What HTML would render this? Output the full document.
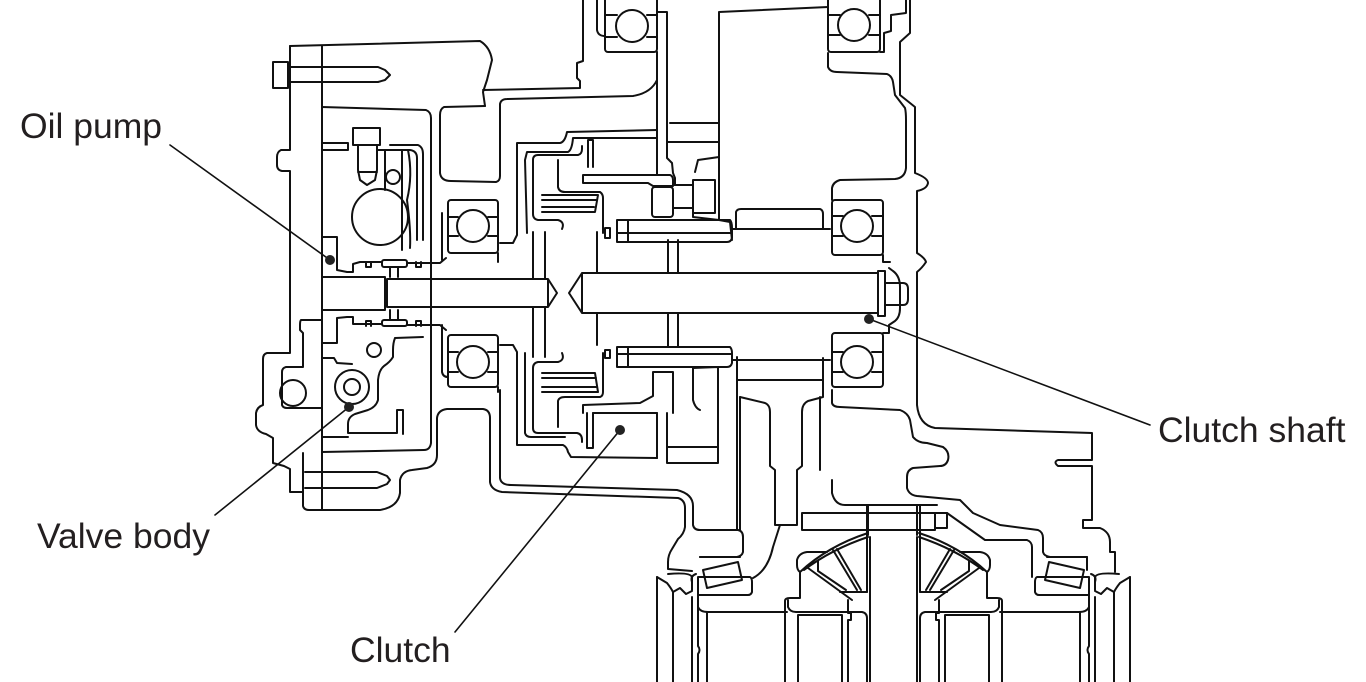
<!DOCTYPE html>
<html><head><meta charset="utf-8"><style>
html,body{margin:0;padding:0;background:#fff;}
svg{display:block;}
</style></head><body>
<svg width="1366" height="682" viewBox="0 0 1366 682" xmlns="http://www.w3.org/2000/svg">
<defs>
<g id="lowgear">
  <path d="M700,557 H740"/>
  <path d="M698,577 H750 Q752,578 752,582 V592 Q751,595 748,595 H698 Z"/>
  <path d="M703,570 L738,562 L742,580 L707,588 Z"/>
  <path d="M698,595 V607 Q700,612 708,612 H787"/>
  <path d="M657,577 V682 M673,592 V682 M692,597 V682 M698,607 V646 Q701,650 698,654 V682 M707,612 V682"/>
  <path d="M657,577 L667,583 Q671,588 673,592 L680,588 L686,594 L692,591"/>
  <path d="M668,574 Q690,572 692,577 V590"/>
  <path d="M696,574 Q690,576 692,582"/>
  <path d="M870,537 V682 M867,505 V592"/>
  <path d="M785,682 V601 Q785,598 790,598 H800 V572 Q797,570 797,565 V560 Q799,553 807,552 H827"/>
  <path d="M800,572 Q828,546 868,533 M804,570 Q832,549 868,537"/>
  <path d="M808,568 L852,600 M833,550 L857,590 M837,549 L861,590 M818,561 V571 L846,590"/>
  <path d="M840,592 H867"/>
  <path d="M788,600 V607 Q790,612 796,612 H862 Q867,613 867,618 V682"/>
  <path d="M798,682 V615 H842 V682"/>
  <path d="M848,600 V613 H851 V620 H848 V682"/>
</g>
</defs>
<g fill="none" stroke="#111" stroke-width="2" stroke-linejoin="round" stroke-linecap="round">
<!-- left housing -->
<path d="M290,46 L480,41 Q490,47 492,60 L487,80 L483,92 L485,106"/>
<path d="M290,46 V150 H281 Q277,152 277,157 V165 Q277,170 282,171 H290 V353 H267 Q263,354 263,359 V405 Q257,407 256,413 V425 Q257,432 266,434 L273,438 V463 L284,466 L290,469 V492 H303"/>
<path d="M322,46 V510"/>
<path d="M303,453 V506 Q304,510 309,510 H380 Q398,507 400,493 V480 Q402,471 412,470 L427,468 Q437,465 437,455 V418 Q438,410 447,409 H483 Q490,410 490,418 V482 Q491,490 502,492 L678,498 Q685,500 685,508 V527 Q684,534 678,539 L672,549 Q668,555 668,562 V569 L692,571"/>
<path d="M500,390 V478 Q501,485 511,485 L677,490 Q693,494 693,506 V525 Q694,530 700,530 H738 Q743,531 743,537 V552 Q742,556 737,557 H700"/>
<path d="M288,67 H378 L385,70 L390,75 L385,80 L378,82 H288"/>
<path d="M273,62 H288 V88 H273 Z"/>
<path d="M305,472 H377 L387,476 L390,480 L387,484 L377,488 H305"/>
<path d="M322,107 L426,110 Q431,112 431,118 V443 Q430,450 424,450 L322,452"/>
<path d="M485,106 L444,107 Q440,109 440,115 V173 Q441,181 451,181 L496,182 Q500,181 500,176 V104 Q501,99 507,99 L633,96 Q651,93 657,80 V52"/>
<path d="M442,213 V260 M442,325 V372 Q443,377 448,377"/>
<path d="M498,253 V262 M498,387 V392"/>
<!-- bearings -->
<rect x="448" y="200" width="50" height="53" rx="3"/><circle cx="473" cy="226" r="16"/><path d="M448,217 H458 M488,217 H498 M448,236 H458 M488,236 H498"/>
<rect x="448" y="335" width="50" height="52" rx="3"/><circle cx="473" cy="362" r="16"/><path d="M448,352 H458 M488,352 H498 M448,372 H458 M488,372 H498"/>
<rect x="605" y="-4" width="52" height="56" rx="3"/><circle cx="632" cy="26" r="16"/><path d="M605,15 H617 M647,15 H657 M605,37 H617 M647,37 H657"/>
<rect x="828" y="-4" width="52" height="56" rx="3"/><circle cx="854" cy="25" r="16"/><path d="M828,15 H840 M869,15 H880 M828,35 H840 M869,35 H880"/>
<rect x="832" y="200" width="51" height="55" rx="3"/><circle cx="857" cy="226" r="16"/><path d="M832,216 H843 M872,216 H883 M832,236 H843 M872,236 H883"/>
<rect x="832" y="333" width="51" height="54" rx="3"/><circle cx="857" cy="362" r="16"/><path d="M832,352 H843 M872,352 H883 M832,372 H843 M872,372 H883"/>
<!-- top middle -->
<path d="M583,0 V61 L577,63 V78 L580,81 V88 L483,90"/>
<path d="M597,0 V30 Q598,36 605,36"/>
<path d="M657,52 V175 M657,12 H667 V158 L672,163 L673,173 L675,178 V185"/>
<path d="M670,123 H718 M667,142 H718"/>
<path d="M719,12 L828,7 M719,12 V220"/>
<!-- right housing -->
<path d="M880,52 H884 V33 L891,31 V15 L906,13 V0"/>
<path d="M910,0 V33 L900,42 V95 L915,107 V173 Q928,178 928,183 Q927,189 917,191 V253 Q925,258 926,262 Q922,268 917,272 V405 Q919,425 935,428 L1092,433 V460 H1058 Q1053,462 1058,466 H1092 V520 H1083 V528 H1100 Q1110,532 1110,542 V552 H1115 V572"/>
<path d="M828,53 V67 Q830,72 837,72 L887,74 Q892,76 893,82 L895,95 L905,108 Q906,112 906,120 V168 Q905,178 895,179 L840,180 Q833,182 832,188 V200"/>
<path d="M883,333 H889 V325 L895,321 Q900,317 900,308 V287 Q900,276 893,271 L889,268"/>
<path d="M883,255 V262 L890,262"/>
<path d="M832,390 V403 Q833,407 840,407 L900,410 Q908,413 910,420 L913,437 Q918,443 927,443 L943,447 Q950,452 948,460 Q946,466 940,466 L913,468 Q907,470 907,477 V488 Q909,495 917,496 L960,500 L973,513 L1000,525 L1038,530 Q1043,532 1043,538 V552 Q1044,556 1050,557 H1087 V570"/>
<path d="M947,513 L985,540 H1027 Q1032,542 1032,547 V577"/>
<!-- shafts -->
<path d="M322,277 H385 V310 H322"/>
<path d="M387,279 H548 L557,293 L548,307 H387 Z M548,279 V307"/>
<path d="M878,273 H582 L569,293 L582,313 H878 M582,273 V313"/>
<path d="M878,271 H885 V316 H878 Z"/>
<path d="M885,283 H903 Q908,283 908,289 V299 Q908,305 903,305 H885"/>
<path d="M533,232 V279 M545,232 V279 M533,307 V357 M545,307 V357"/>
<path d="M597,232 V273 M597,313 V345"/>
<path d="M668,240 V273 M678,240 V273 M668,313 V347 M678,313 V347"/>
<!-- oil pump -->
<path d="M322,143 H348 V150 M322,150 H348"/>
<path d="M353,128 H380 V145 H353 Z"/>
<path d="M358,145 V170 L360,180 L367,185 L375,180 L377,170 V145 M358,172 H377"/>
<path d="M377,150 H410 Q417,151 417,158 V240 M390,145 H418 Q423,147 423,154 V240"/>
<path d="M385,150 V190 M402,150 V250 M408,150 Q413,175 407,200 Q411,230 410,248"/>
<circle cx="393" cy="177" r="7"/>
<circle cx="380" cy="217" r="28"/>
<path d="M322,237 H337 V270 L347,272 H353 V264 L360,262 H382 M407,263 H440 L446,258"/>
<rect x="382" y="260" width="25" height="7" rx="2"/>
<path d="M366,262 V267 H371 V262 M416,262 V267 H421 V262 M390,267 V277 M398,267 V277"/>
<path d="M322,343 H337 V318 L347,317 H353 V324 H382 M407,325 H440 L446,330"/>
<rect x="382" y="320" width="25" height="6" rx="2"/>
<path d="M366,326 V321 H371 V326 M416,326 V321 H421 V326 M390,310 V320 M398,310 V320"/>
<!-- valve body -->
<path d="M322,320 H301 Q300,321 300,325 V330 L303,333 V367 H286 Q282,368 282,372 V405 Q283,408 287,408 H322"/>
<circle cx="293" cy="393" r="13"/>
<path d="M322,358 H334 L337,363 L352,364"/>
<path d="M395,338 L423,337 M395,338 Q393,343 393,350 V357 Q390,362 384,366 Q379,370 378,380 V400 Q376,407 368,410 L355,414 Q348,417 348,424 V433 H397 V410 H403 V434"/>
<path d="M322,437 H348"/>
<circle cx="352" cy="387" r="17"/><circle cx="352" cy="387" r="8"/>
<circle cx="374" cy="350" r="7"/>
<!-- clutch upper -->
<path d="M500,243 H513 L517,235 V143 H560 Q565,142 567,132 L657,130"/>
<path d="M527,233 L525,160 L527,152 H568 Q572,150 573,138 H657"/>
<path d="M562,229 Q565,222 558,220 H538 Q533,219 533,214 V160 Q533,155 538,155 H578 Q582,154 582,149 V146"/>
<path d="M558,160 V187 Q559,192 565,192 H600 Q603,194 603,198 V233"/>
<path d="M542,195 H598 L595,212 H542 M542,200 H596 M542,207 H594"/>
<path d="M588,167 V140 H593 V167"/>
<path d="M583,183 V175 H670 Q673,176 673,180 V186 H653 L648,183 Z"/>
<rect x="652" y="187" width="21" height="30" rx="3"/>
<path d="M673,185 H693 M673,208 H693"/>
<path d="M693,180 H715 V213 H693 Z M695,172 L698,160 L719,157 M693,213 V217 L719,220 L730,222 L732,240"/>
<path d="M617,220 H730 Q732,222 732,228 V238 Q731,242 727,242 H617 Z M628,220 V242 M617,233 H732"/>
<path d="M605,228 H610 V238 H605 Z"/>
<path d="M736,229 V212 Q737,209 741,209 H820 Q823,210 823,214 V229 M733,229 H830"/>
<!-- clutch lower -->
<path d="M617,347 H730 Q732,349 732,353 V363 Q731,367 727,367 H617 Z M628,347 V367 M617,354 H732"/>
<path d="M605,350 H610 V358 H605 Z"/>
<path d="M500,345 H513 L517,352 V445 H563 Q567,447 568,452 L571,457 L657,458"/>
<path d="M525,353 V433 Q526,437 531,437 H565"/>
<path d="M562,353 Q565,360 558,362 H538 Q533,363 533,368 V428 Q533,433 538,433 H577 Q582,434 582,440 V442"/>
<path d="M558,427 V401 Q559,397 565,397 H600 Q603,396 603,392 V353"/>
<path d="M542,373 H595 L598,392 H542 M542,378 H596 M542,387 H597"/>
<path d="M583,413 V405 L640,403 L653,396 V372 H673 V413 M593,413 H657 V458"/>
<path d="M587,413 V448 H593 V413"/>
<path d="M693,368 L718,367 V463 H667 V413 M667,447 H718 M693,368 V400 Q695,408 700,410"/>
<path d="M657,413 V458"/>
<!-- output T -->
<path d="M732,360 H830 M737,380 H823 M737,357 V382 M823,358 V380"/>
<path d="M737,380 V530 M740,397 V530"/>
<path d="M740,397 L765,403 Q770,405 770,412 V466 L775,470 V525 H797 V470 L802,466 V412 Q802,404 808,401 L823,397 V380 M820,397 V470"/>
<path d="M802,513 H935 V530 H802 Z M935,513 H947 V528 H935"/>
<path d="M832,480 V493 Q835,505 845,505 H937"/>
<path d="M780,525 L773,547 Q768,570 753,578"/>
<path d="M868,505 V535 M917,505 V535"/>
<use href="#lowgear"/>
<use href="#lowgear" transform="translate(1787,0) scale(-1,1)"/>
<!-- leaders -->
<path d="M170,145 L330,260" stroke-width="1.6"/>
<path d="M215,515 L349,407" stroke-width="1.6"/>
<path d="M455,632 L620,430" stroke-width="1.6"/>
<path d="M1150,425 L869,319" stroke-width="1.6"/>
</g>
<g fill="#222">
<circle cx="330" cy="260" r="5"/>
<circle cx="349" cy="407" r="5"/>
<circle cx="620" cy="430" r="5"/>
<circle cx="869" cy="319" r="5"/>
</g>
<g font-family="Liberation Sans, Arial, sans-serif" font-size="35.5" fill="#231f20">
<text x="20" y="138">Oil pump</text>
<text x="37" y="548">Valve body</text>
<text x="350" y="662">Clutch</text>
<text x="1158" y="442">Clutch shaft</text>
</g>
</svg>
</body></html>
